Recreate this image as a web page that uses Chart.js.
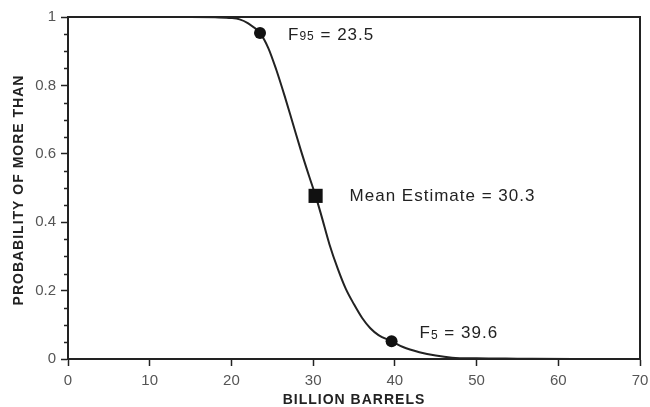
<!DOCTYPE html>
<html>
<head>
<meta charset="utf-8">
<script src="https://cdn.jsdelivr.net/npm/chart.js@4/dist/chart.umd.min.js"></script>
<style>
    html, body { margin: 0; padding: 0; background: #fff; }
    #wrap { width: 650px; height: 407px; position: relative; }
</style>
</head>
<body>
<div id="wrap"><canvas id="probChart" width="650" height="407"></canvas></div>
<script>
// Curve (probability of more than x billion barrels)
const barrels = [0, 10, 15, 18, 20, 21, 22, 23.5, 24.5, 25.5, 26.5, 27.5, 28.5, 29.5, 30.3, 31, 32, 33, 34, 35, 36, 37, 38, 39.6, 41, 43, 45, 47, 50, 55, 62, 65];
const probability = [1, 1, 1, 0.999, 0.997, 0.993, 0.982, 0.953, 0.91, 0.845, 0.77, 0.69, 0.61, 0.535, 0.477, 0.42, 0.335, 0.265, 0.205, 0.16, 0.12, 0.09, 0.07, 0.052, 0.035, 0.02, 0.01, 0.004, 0.002, 0.001, 0, 0];

// Marked points
const fractileX = [23.5, 39.6];
const fractileY = [0.953, 0.052];
const fractileSub = ['95', '5'];
const fractileText = [' = 23.5', ' = 39.6'];
const meanX = [30.3];
const meanY = [0.477];
const meanText = 'Mean Estimate = 30.3';

// Axis ticks and titles
const xTicks = [0, 10, 20, 30, 40, 50, 60, 70];
const yTicks = [0, 0.2, 0.4, 0.6, 0.8, 1];
const yMinorTicks = [0.05, 0.1, 0.15, 0.25, 0.3, 0.35, 0.45, 0.5, 0.55, 0.65, 0.7, 0.75, 0.85, 0.9, 0.95];
const xTitle = 'BILLION BARRELS';
const yTitle = 'PROBABILITY OF MORE THAN';

const FONT = "'Liberation Sans', Arial, Helvetica, sans-serif";
const INK = '#222';

// draw frame, minor ticks, axis titles and the point labels
const extrasPlugin = {
    id: 'extras',
    afterDraw(chart) {
        const ctx = chart.ctx;
        const area = chart.chartArea;
        const xs = chart.scales.x;
        const ys = chart.scales.y;
        ctx.save();
        // frame
        ctx.strokeStyle = INK;
        ctx.lineWidth = 2;
        ctx.strokeRect(area.left, area.top, area.right - area.left, area.bottom - area.top);
        // minor y ticks
        ctx.lineWidth = 1.5;
        ctx.beginPath();
        yMinorTicks.forEach(v => {
            const py = Math.round(ys.getPixelForValue(v)) + 0.5;
            ctx.moveTo(area.left - 4, py);
            ctx.lineTo(area.left, py);
        });
        ctx.stroke();

        // axis titles
        ctx.fillStyle = INK;
        ctx.letterSpacing = '1px';
        ctx.font = 'bold 14px ' + FONT;
        ctx.textAlign = 'center';
        ctx.textBaseline = 'middle';
        ctx.fillText(xTitle, (area.left + area.right) / 2, 400);
        ctx.save();
        ctx.translate(19, (area.top + area.bottom) / 2 + 2);
        ctx.rotate(-Math.PI / 2);
        ctx.fillText(yTitle, 0, 0);
        ctx.restore();

        // point labels
        ctx.textAlign = 'left';
        fractileX.forEach((v, i) => {
            let px = xs.getPixelForValue(v) + 28;
            const py = ys.getPixelForValue(fractileY[i]) + (i === 0 ? 2 : -8);
            ctx.font = '17px ' + FONT;
            ctx.fillText('F', px, py);
            px += ctx.measureText('F').width;
            ctx.font = '12px ' + FONT;
            ctx.fillText(fractileSub[i], px, py + 2);
            px += ctx.measureText(fractileSub[i]).width;
            ctx.font = '17px ' + FONT;
            ctx.fillText(fractileText[i], px, py);
        });
        ctx.font = '17px ' + FONT;
        ctx.fillText(meanText, xs.getPixelForValue(meanX[0]) + 34, ys.getPixelForValue(meanY[0]));
        ctx.restore();
    }
};

const ctx = document.getElementById('probChart').getContext('2d');
new Chart(ctx, {
    type: 'scatter',
    data: {
        datasets: [
            {
                label: 'F95 / F5',
                data: fractileX.map((x, i) => ({ x: x, y: fractileY[i] })),
                pointStyle: 'circle',
                pointRadius: 6,
                backgroundColor: '#111',
                borderColor: '#111',
                borderWidth: 0
            },
            {
                label: 'Mean',
                data: meanX.map((x, i) => ({ x: x, y: meanY[i] })),
                pointStyle: 'rect',
                pointRadius: 10,
                backgroundColor: '#111',
                borderColor: '#111',
                borderWidth: 0
            },
            {
                type: 'line',
                label: 'Probability',
                data: barrels.map((x, i) => ({ x: x, y: probability[i] })),
                borderColor: INK,
                borderWidth: 2,
                pointRadius: 0,
                fill: false,
                cubicInterpolationMode: 'monotone'
            }
        ]
    },
    options: {
        responsive: false,
        animation: false,
        layout: { padding: { top: 17, right: 9, left: 0, bottom: 0 } },
        scales: {
            x: {
                type: 'linear',
                min: 0,
                max: 70,
                afterBuildTicks: axis => { axis.ticks = xTicks.map(v => ({ value: v })); },
                afterFit: axis => {
                    axis.height = 48;
                    axis.paddingLeft = 0;
                    axis.paddingRight = 0;
                },
                grid: { drawOnChartArea: false, tickLength: 7, tickWidth: 1.5, tickColor: INK },
                border: { color: INK, width: 2 },
                ticks: { color: '#555', font: { family: FONT, size: 15 }, padding: 6 }
            },
            y: {
                min: 0,
                max: 1,
                afterBuildTicks: axis => { axis.ticks = yTicks.map(v => ({ value: v })); },
                afterFit: axis => {
                    axis.width = 68;
                    axis.paddingTop = 0;
                    axis.paddingBottom = 0;
                },
                grid: { drawOnChartArea: false, tickLength: 7, tickWidth: 1.5, tickColor: INK },
                border: { color: INK, width: 2 },
                ticks: {
                    color: '#555',
                    font: { family: FONT, size: 15 },
                    padding: 5,
                    callback: v => String(+v.toFixed(1))
                }
            }
        },
        plugins: {
            legend: { display: false },
            tooltip: { enabled: false }
        }
    },
    plugins: [extrasPlugin]
});
</script>
</body>
</html>
